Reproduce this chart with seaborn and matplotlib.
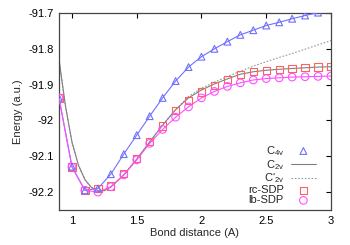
import numpy as np
import pandas as pd
import matplotlib
matplotlib.use("Agg")
import matplotlib.pyplot as plt
import seaborn as sns
from matplotlib.ticker import MultipleLocator, FuncFormatter

# ---- data ----
bond = [0.9, 1.0, 1.1, 1.2, 1.3, 1.4, 1.5, 1.6, 1.7, 1.8, 1.9,
        2.0, 2.1, 2.2, 2.3, 2.4, 2.5, 2.6, 2.7, 2.8, 2.9, 3.0]

c4v_x = bond[:-1]
c4v_e = [-91.937, -92.129, -92.195, -92.190, -92.150, -92.094, -92.041, -91.988,
         -91.937, -91.890, -91.851, -91.822, -91.800, -91.780, -91.761, -91.748,
         -91.735, -91.726, -91.716, -91.707, -91.699]

rc_e = [-91.937, -92.130, -92.195, -92.190, -92.183, -92.149, -92.107, -92.059,
        -92.015, -91.972, -91.945, -91.921, -91.902, -91.885, -91.871, -91.864,
        -91.861, -91.858, -91.855, -91.853, -91.851, -91.850]

lb_e = [-91.937, -92.130, -92.195, -92.200, -92.185, -92.152, -92.110, -92.064,
        -92.025, -91.991, -91.962, -91.937, -91.919, -91.905, -91.895, -91.887,
        -91.883, -91.881, -91.879, -91.878, -91.877, -91.876]

c2v_x = [0.9, 0.95, 1.0, 1.05, 1.1, 1.15, 1.2, 1.25, 1.3, 1.4, 1.5, 1.6, 1.7,
         1.8, 1.9, 2.0, 2.1, 2.2, 2.3, 2.4, 2.5, 2.6, 2.7, 2.8, 2.9, 3.0]
c2v_e = [-91.830, -91.960, -92.060, -92.125, -92.165, -92.187, -92.196, -92.196,
         -92.186, -92.152, -92.108, -92.060, -92.013, -91.970, -91.937, -91.915,
         -91.898, -91.884, -91.871, -91.864, -91.860, -91.857, -91.855, -91.853,
         -91.851, -91.850]

c2vp_x = c2v_x
c2vp_e = [-91.830, -91.960, -92.060, -92.125, -92.165, -92.187, -92.196, -92.196,
          -92.186, -92.152, -92.108, -92.060, -92.013, -91.970, -91.933, -91.910,
          -91.893, -91.877, -91.863, -91.848, -91.836, -91.824, -91.813, -91.801,
          -91.789, -91.777]

legend_order = [r"C$_{4v}$", r"C$_{2v}$", r"C$'_{2v}$", "rc-SDP", "lb-SDP"]

BLUE = "#7070ff"
RED = "#ff6060"
MAG = "#ff50ff"
GRAY = "#808080"

sns.set_theme(style="white")
plt.rcParams["font.family"] = ["Liberation Sans", "DejaVu Sans"]
plt.rcParams["mathtext.fontset"] = "custom"
plt.rcParams["mathtext.rm"] = "Liberation Sans"
plt.rcParams["mathtext.it"] = "Liberation Sans"

fig = plt.figure(figsize=(3.5, 2.45), dpi=100)
ax = fig.add_axes([59 / 350, 1 - 210 / 245, (331 - 59) / 350, (210 - 13) / 245])

df_c4v = pd.DataFrame({"x": c4v_x, "E": c4v_e})
df_rc = pd.DataFrame({"x": bond, "E": rc_e})
df_lb = pd.DataFrame({"x": bond, "E": lb_e})
df_c2v = pd.DataFrame({"x": c2v_x, "E": c2v_e})
df_c2vp = pd.DataFrame({"x": c2vp_x, "E": c2vp_e})

lw = 0.8
sns.lineplot(data=df_c2vp, x="x", y="E", ax=ax, color="#999999", lw=lw,
             linestyle=(0, (1.5, 1.5)), label=legend_order[2], zorder=2)
sns.lineplot(data=df_c2v, x="x", y="E", ax=ax, color=GRAY, lw=lw,
             label=legend_order[1], zorder=2)
sns.lineplot(data=df_c4v, x="x", y="E", ax=ax, color=BLUE, lw=lw, zorder=3)
sns.lineplot(data=df_lb, x="x", y="E", ax=ax, color=MAG, lw=lw, zorder=3)

ms = 24
sns.scatterplot(data=df_c4v, x="x", y="E", ax=ax, marker="^", s=ms,
                facecolor="none", edgecolor=BLUE, linewidth=0.8,
                label=legend_order[0], zorder=5)
sns.scatterplot(data=df_rc, x="x", y="E", ax=ax, marker="s", s=ms + 4,
                facecolor="none", edgecolor=RED, linewidth=0.8,
                label=legend_order[3], zorder=4)
sns.scatterplot(data=df_lb, x="x", y="E", ax=ax, marker="o", s=ms + 6,
                facecolor="none", edgecolor=MAG, linewidth=0.8,
                label=legend_order[4], zorder=4)

ax.set_xlim(0.9, 3.0)
ax.set_ylim(-92.25, -91.7)
ax.xaxis.set_major_locator(MultipleLocator(0.5))
ax.yaxis.set_major_locator(MultipleLocator(0.1))
ax.xaxis.set_major_formatter(FuncFormatter(lambda v, p: f"{v:g}"))
ax.yaxis.set_major_formatter(FuncFormatter(lambda v, p: f"{round(v, 1):g}"))
ax.tick_params(direction="in", length=3.5, width=0.8, top=True, right=True,
               labelsize=8, colors="black", pad=4)
for s in ax.spines.values():
    s.set_color("#444444")
    s.set_linewidth(0.9)
ax.set_xlabel("Bond distance (A)", fontsize=8, labelpad=2)
ax.set_ylabel("Energy (a.u.)", fontsize=8, labelpad=4)

handles, labels = ax.get_legend_handles_labels()
order = [labels.index(l) for l in legend_order]
leg = ax.legend([handles[i] for i in order], [labels[i] for i in order],
                loc="lower right", bbox_to_anchor=(0.97, -0.01), frameon=False,
                markerfirst=False, fontsize=8, handlelength=2.3,
                handletextpad=0.6, labelspacing=0.0, borderaxespad=0.2)

fig.savefig("out.png", dpi=100)
